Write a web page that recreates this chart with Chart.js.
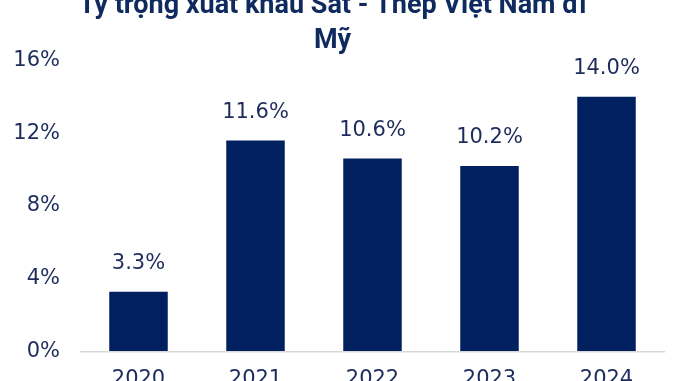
<!DOCTYPE html>
<html>
<head>
<meta charset="utf-8">
<script src="https://cdn.jsdelivr.net/npm/chart.js@4"></script>
<style>
  html, body { margin: 0; padding: 0; background: #fff; overflow: hidden; }
  .wrap { position: absolute; left: 0; top: -20px; width: 678px; height: 419px; }
</style>
</head>
<body>
<div class="wrap"><canvas id="myChart"></canvas></div>
<script>
// data
const years = ["2020", "2021", "2022", "2023", "2024"];
const shares = [3.3, 11.6, 10.6, 10.2, 14.0];
const yTicks = [0, 4, 8, 12, 16];

const navy = "#002060";
const textColor = "#1D2C5C";
const numFont = "'DejaVu Sans', sans-serif";

// labels above bars
const barLabels = {
  id: "barLabels",
  afterDatasetsDraw(chart) {
    const ctx = chart.ctx;
    const meta = chart.getDatasetMeta(0);
    ctx.save();
    ctx.font = "21px " + numFont;
    ctx.fillStyle = textColor;
    ctx.textAlign = "center";
    ctx.textBaseline = "middle";
    meta.data.forEach((bar, i) => {
      ctx.fillText(shares[i].toFixed(1) + "%", bar.x, bar.y - 28);
    });
    ctx.restore();
  },
};

const ctx = document.getElementById("myChart");

const myChart = new Chart(ctx, {
  type: "bar",
  data: {
    labels: years,
    datasets: [
      {
        label: "Tỷ trọng",
        data: shares,
        backgroundColor: navy,
        barPercentage: 0.5,
        categoryPercentage: 1,
      },
    ],
  },
  options: {
    responsive: true,
    maintainAspectRatio: false,
    animation: false,
    layout: {
      padding: { left: 0, right: 13, top: 0, bottom: 0 },
    },
    plugins: {
      legend: { display: false },
      tooltip: { enabled: false },
      title: {
        display: true,
        text: ["Tỷ trọng xuất khẩu Sắt - Thép Việt Nam đi", "Mỹ"],
        color: "#0E2A5E",
        font: { family: "Roboto, sans-serif", size: 27, weight: "bold", lineHeight: 1.3 },
        padding: { top: 9, bottom: 1 },
      },
    },
    scales: {
      x: {
        grid: { display: false },
        border: { display: false },
        ticks: {
          color: textColor,
          font: { family: numFont, size: 21 },
          padding: 7,
        },
      },
      y: {
        min: 0,
        max: 16,
        afterBuildTicks: (axis) => {
          axis.ticks = yTicks.map((v) => ({ value: v }));
        },
        afterFit: (axis) => {
          axis.width = 80;
        },
        border: { display: false },
        grid: {
          drawTicks: false,
          lineWidth: 1.5,
          color: (c) => (c.tick && c.tick.value === 0 ? "#D9D9D9" : "transparent"),
        },
        ticks: {
          color: textColor,
          font: { family: numFont, size: 21 },
          padding: 20,
          callback: (v) => v + "%",
        },
      },
    },
  },
  plugins: [barLabels],
});
</script>
</body>
</html>
